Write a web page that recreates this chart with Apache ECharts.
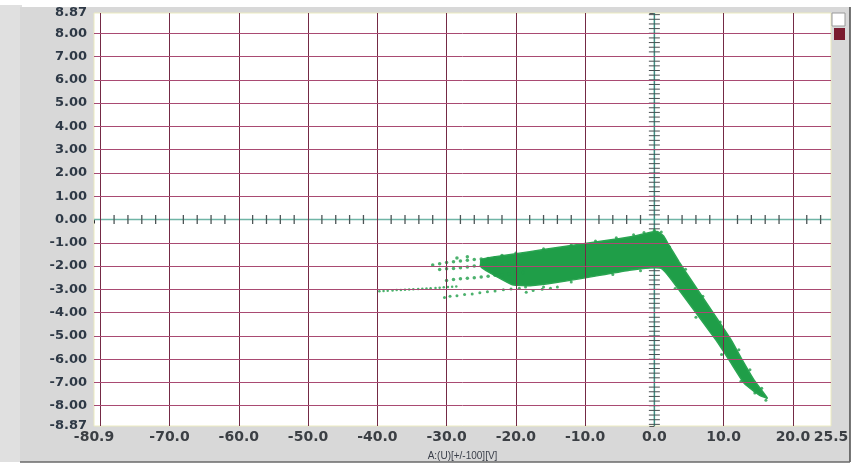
<!DOCTYPE html>
<html><head><meta charset="utf-8">
<script src="https://cdn.jsdelivr.net/npm/echarts@6/dist/echarts.min.js"></script>
<style>html,body{margin:0;padding:0;background:#fff}#c{width:861px;height:465px}</style>
</head><body><div id="c"></div>
<script>
// ---- axis labels / grid ----
const xLabels = [-80.9, -70, -60, -50, -40, -30, -20, -10, 0, 10, 20, 25.5];
const yLabels = [-8.87, -8, -7, -6, -5, -4, -3, -2, -1, 0, 1, 2, 3, 4, 5, 6, 7, 8, 8.87];
const xGrid = [-80, -70, -60, -50, -40, -30, -20, -10, 10, 20];
const yGrid = [-8, -7, -6, -5, -4, -3, -2, -1, 1, 2, 3, 4, 5, 6, 7, 8];
// ticks drawn on the zero cross axes
const zeroXTicks = [-78, -76, -74, -72, -68, -66, -64, -62, -58, -56, -54, -52, -48, -46, -44, -42,
  -38, -36, -34, -32, -28, -26, -24, -22, -18, -16, -14, -12, -8, -6, -4, -2, 2, 4, 6, 8, 12, 14, 16, 18, 22, 24];
const zeroYTicks = [-8.8, -8.6, -8.4, -8.2, -8.0, -7.8, -7.6, -7.4, -7.2, -7.0, -6.8, -6.6, -6.4, -6.2, -6.0,
  -5.8, -5.6, -5.4, -5.2, -5.0, -4.8, -4.6, -4.4, -4.2, -4.0, -3.8, -3.6, -3.4, -3.2, -3.0, -2.8, -2.6, -2.4, -2.2, -2.0,
  -1.8, -1.6, -1.4, -1.2, -1.0, -0.8, -0.6, -0.4, -0.2, 0.2, 0.4, 0.6, 0.8, 1.0, 1.2, 1.4, 1.6, 1.8, 2.0,
  2.2, 2.4, 2.6, 2.8, 3.0, 3.2, 3.4, 3.6, 3.8, 4.0, 4.2, 4.4, 4.6, 4.8, 5.0, 5.2, 5.4, 5.6, 5.8, 6.0,
  6.2, 6.4, 6.6, 6.8, 7.0, 7.2, 7.4, 7.6, 7.8, 8.0, 8.2, 8.4, 8.6, 8.8];

// ---- data ----
// outline of the dense cloud (x [V], y)
const bandOutline = [
  [-25, -1.72], [-22, -1.56], [-18, -1.38], [-14, -1.2], [-10, -1.03], [-6, -0.86], [-3, -0.72],
  [-1, -0.58], [0.4, -0.52], [1.3, -0.7], [1.9, -1.0], [3.6, -1.83], [5.3, -2.6], [11.1, -5.18],
  [12.7, -6.04], [14.4, -6.9], [16.3, -7.67],
  [15.2, -7.55], [13.0, -7.05], [10.8, -6.04], [8.9, -5.18], [2.5, -2.6], [1.0, -2.1], [-0.7, -2.08],
  [-3.6, -2.18], [-7.9, -2.4], [-10.8, -2.55], [-14.4, -2.72], [-17.6, -2.84], [-20.5, -2.8],
  [-22.5, -2.5], [-25, -2.05]
];
// grainy points along the edges of the cloud
const edgePoints = [
  [-20, -1.44], [-16, -1.26], [-12, -1.08], [-8.5, -0.92], [-5.5, -0.78], [-3, -0.66], [-1.5, -0.56],
  [0, -0.46], [1, -0.54], [2.2, -1.18], [4.5, -2.14], [7, -3.3], [9.5, -4.4], [12.2, -5.6],
  [13.8, -6.45], [15.5, -7.25], [16.1, -7.76], [-2, -2.2], [-6, -2.36], [-12, -2.68], [-16, -2.9],
  [3, -2.96], [6, -4.2], [9.7, -5.8], [12.5, -6.95], [14.5, -7.45]
];
// sparse streak points to the left of the cloud
const tailPoints = [
  [-39.7, -3.08], [-39.1, -3.07], [-38.5, -3.06], [-37.8, -3.05], [-37.2, -3.03], [-36.6, -3.03], [-36.0, -3.02],
  [-35.4, -3.01], [-34.8, -3.0], [-34.1, -2.98], [-33.5, -2.97], [-32.9, -2.96], [-32.3, -2.95], [-31.6, -2.94],
  [-31.0, -2.93], [-30.4, -2.91], [-29.8, -2.9], [-29.2, -2.89], [-28.6, -2.88]
];
const streakLow = [
  [-30.3, -3.35], [-29.5, -3.3], [-28.5, -3.27], [-27.4, -3.22], [-26.3, -3.2], [-25.2, -3.15], [-24.1, -3.1],
  [-23.0, -3.07], [-21.8, -3.02], [-20.7, -2.98], [-19.5, -2.95], [-18.6, -2.9],
  [-18.5, -3.12], [-17.5, -3.05], [-16.2, -3.0], [-15.0, -2.95], [-14.0, -2.9]
];
const streakMid = [
  [-30, -2.62], [-29, -2.58], [-28, -2.55], [-27, -2.52], [-26, -2.5], [-25, -2.47], [-24, -2.44],
  [-23, -2.4], [-22, -2.37], [-21, -2.34], [-20, -2.3], [-19, -2.28],
  [-31, -2.15], [-30, -2.12], [-29, -2.1], [-28, -2.07], [-27, -2.04], [-26, -2.0], [-25, -1.98],
  [-24, -1.95], [-23, -1.92], [-22, -1.9], [-21, -1.87]
];
const streakHigh = [
  [-32, -1.95], [-31, -1.9], [-30, -1.85], [-29, -1.82], [-28, -1.78], [-27, -1.75], [-26, -1.72],
  [-25, -1.7], [-24, -1.67], [-23, -1.64], [-28.5, -1.65], [-27, -1.6], [-22, -1.55]
];

const GREEN = '#1f9e48';
const chart = echarts.init(document.getElementById('c'), null, {renderer: 'canvas'});

const gridLines = [];
xGrid.forEach(v => gridLines.push({xAxis: v, lineStyle: {color: '#742a45', width: 1, type: 'solid'}}));
yGrid.forEach(v => gridLines.push({yAxis: v, lineStyle: {color: '#a94a72', width: 1, type: 'solid'}}));

const option = {
  backgroundColor: '#ffffff',
  animation: false,
  graphic: [
    {type: 'rect', z: -10, shape: {x: 0, y: 5, width: 22, height: 457}, style: {fill: '#e0e0e0'}},
    {type: 'rect', z: -10, shape: {x: 20, y: 7, width: 830, height: 455}, style: {fill: '#d8d8d8'}},
    {type: 'line', z: -9, shape: {x1: 850, y1: 7, x2: 850, y2: 462}, style: {stroke: '#4a4a4a', lineWidth: 1.5}},
    {type: 'line', z: -9, shape: {x1: 20, y1: 462, x2: 850, y2: 462}, style: {stroke: '#6a6a6a', lineWidth: 1.5}},
    {type: 'rect', shape: {x: 832, y: 13, width: 13, height: 13}, style: {fill: '#ffffff', stroke: '#9a9a9a', lineWidth: 1}},
    {type: 'rect', shape: {x: 834, y: 28, width: 11, height: 12}, style: {fill: '#7a1b2e'}}
  ],
  grid: {left: 94, right: 30, top: 13, bottom: 39, show: true, backgroundColor: '#ffffff',
    borderColor: '#ecebc0', borderWidth: 1, containLabel: false, outerBoundsMode: 'none'},
  xAxis: {
    type: 'value', min: -80.9, max: 25.5,
    name: 'A:(U)[+/-100][V]', nameLocation: 'middle', nameGap: 25,
    nameTextStyle: {fontFamily: 'Liberation Sans', fontSize: 10, color: '#3a3f4a'},
    splitLine: {show: false},
    axisLine: {show: false},
    axisTick: {show: true, customValues: [-80.9], length: 4, lineStyle: {color: '#333'}},
    axisLabel: {customValues: xLabels, formatter: v => Number(v).toFixed(1), margin: 4,
      fontFamily: 'DejaVu Sans', fontWeight: 'bold', fontSize: 14, color: '#3b3f44', hideOverlap: false}
  },
  yAxis: {
    type: 'value', min: -8.87, max: 8.87,
    splitLine: {show: false},
    axisLine: {show: false},
    axisTick: {show: true, customValues: yLabels, length: 5, lineStyle: {color: '#555'}},
    axisLabel: {customValues: yLabels, formatter: v => Number(v).toFixed(2), margin: 7,
      fontFamily: 'DejaVu Sans', fontWeight: 'bold', fontSize: 13, color: '#2e3946', hideOverlap: false}
  },
  series: [
    {
      type: 'scatter', data: [], silent: true, z: 1,
      markLine: {silent: true, symbol: ['none', 'none'], label: {show: false}, animation: false, data: gridLines}
    },
    {
      type: 'custom', z: 2, silent: true, data: [0],
      renderItem: function (params, api) {
        const children = [];
        const l = api.coord([-80.9, 0]), r = api.coord([25.5, 0]);
        const t = api.coord([0, 8.87]), b = api.coord([0, -8.87]);
        children.push({type: 'line', shape: {x1: l[0], y1: l[1], x2: r[0], y2: r[1]}, style: {stroke: '#6fb5a6', lineWidth: 1.5}});
        children.push({type: 'line', shape: {x1: t[0], y1: t[1], x2: b[0], y2: b[1]}, style: {stroke: '#3f8f84', lineWidth: 1.5}});
        zeroXTicks.forEach(v => {
          const p = api.coord([v, 0]);
          children.push({type: 'line', shape: {x1: p[0], y1: p[1] - 4.5, x2: p[0], y2: p[1] + 4.5}, style: {stroke: '#4c5556', lineWidth: 1.3}});
        });
        zeroYTicks.forEach(v => {
          const p = api.coord([0, v]);
          children.push({type: 'line', shape: {x1: p[0] - 5.5, y1: p[1], x2: p[0] + 5.5, y2: p[1]}, style: {stroke: '#485052', lineWidth: 1}});
        });
        return {type: 'group', children: children};
      }
    },
    {
      type: 'custom', z: 3, silent: true, data: [0],
      renderItem: function (params, api) {
        return {type: 'polygon', shape: {points: bandOutline.map(p => api.coord(p)), smooth: 0.15},
          style: {fill: GREEN, stroke: '#2aa552', lineWidth: 1.5}};
      }
    },
    {type: 'scatter', z: 4, silent: true, symbolSize: 3, itemStyle: {color: GREEN}, data: edgePoints},
    {type: 'scatter', z: 4, silent: true, symbolSize: 2.5, itemStyle: {color: GREEN}, data: tailPoints},
    {type: 'scatter', z: 4, silent: true, symbolSize: 3, itemStyle: {color: GREEN}, data: streakLow},
    {type: 'scatter', z: 4, silent: true, symbolSize: 3.5, itemStyle: {color: GREEN}, data: streakMid},
    {type: 'scatter', z: 4, silent: true, symbolSize: 3.5, itemStyle: {color: GREEN}, data: streakHigh}
  ]
};
chart.setOption(option);
</script></body></html>
